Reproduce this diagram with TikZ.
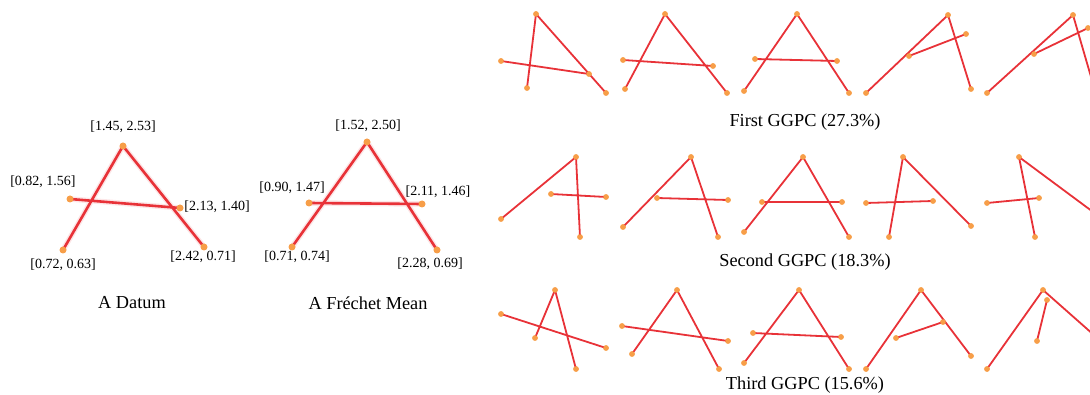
\documentclass[tikz,border=0pt]{standalone}
\usepackage{fontspec}
\setmainfont{Liberation Serif}
\begin{document}
\begin{tikzpicture}[x=1pt,y=-1pt,
  pt/.style={circle,fill=ptorange,inner sep=0pt,minimum size=5.5pt},
  bigpt/.style={circle,fill=ptorange,inner sep=0pt,minimum size=7pt},
  seg/.style={draw=segred,line width=1.8pt},
  bigseg/.style={draw=segred,line width=2.6pt},
  glow/.style={draw=segred!12,line width=5.5pt,line cap=round},
  lab/.style={font=\fontsize{14}{16}\selectfont,inner sep=0pt},
  captext/.style={font=\fontsize{18.3}{21}\selectfont,inner sep=0pt}]
\definecolor{segred}{RGB}{232,50,56}
\definecolor{ptorange}{RGB}{247,158,72}
\useasboundingbox (0,0) rectangle (1090,395);
\clip (0,0) rectangle (1090,395);

% ---------- A Datum ----------
\coordinate (dT) at (123,146);
\coordinate (dL) at (70,199);
\coordinate (dR) at (180,208);
\coordinate (dBL) at (63,250);
\coordinate (dBR) at (204,247);
\draw[glow] (dT) -- (dBL) (dT) -- (dBR) (dL) -- (dR);
\draw[bigseg] (dT) -- (dBL) (dT) -- (dBR) (dL) -- (dR);
\foreach \p in {dT,dL,dR,dBL,dBR} \node[bigpt] (n\p) at (\p) {};
\node[lab] (ldT) at (123,127) {[1.45, 2.53]};
\node[lab] (ldL) at (43,182) {[0.82, 1.56]};
\node[lab] (ldR) at (217,207) {[2.13, 1.40]};
\node[lab] (ldBL) at (63,265) {[0.72, 0.63]};
\node[lab] (ldBR) at (203,257) {[2.42, 0.71]};
\node[captext] (cd) at (132,303) {A Datum};

% ---------- Frechet mean ----------
\coordinate (mT) at (367,142);
\coordinate (mL) at (309,203);
\coordinate (mR) at (422,204);
\coordinate (mBL) at (292,247);
\coordinate (mBR) at (437,250);
\draw[glow] (mT) -- (mBL) (mT) -- (mBR) (mL) -- (mR);
\draw[bigseg] (mT) -- (mBL) (mT) -- (mBR) (mL) -- (mR);
\foreach \p in {mT,mL,mR,mBL,mBR} \node[bigpt] (n\p) at (\p) {};
\node[lab] (lmT) at (368,126) {[1.52, 2.50]};
\node[lab] (lmL) at (292,188) {[0.90, 1.47]};
\node[lab] (lmR) at (438,192) {[2.11, 1.46]};
\node[lab] (lmBL) at (297,257) {[0.71, 0.74]};
\node[lab] (lmBR) at (430,264) {[2.28, 0.69]};
\node[captext] (cm) at (368,303) {A Fr\'echet Mean};

% ---------- GGPC shapes: top, bottom-left, bottom-right, bar-left, bar-right ----------
\foreach \name/\tx/\ty/\blx/\bly/\brx/\bry/\lx/\ly/\rx/\ry in {
  a1/536/14/527/88/606/93/501/61/589/74,
  a2/665/14/625/89/727/93/623/60/713/66,
  a3/797/14/744/91/849/93/755/59/837/61,
  a4/948/15/866/93/971/89/909/56/966/34,
  a5/1073/15/987/93/1096/94/1034/54/1088/28,
  b1/576/157/501/219/580/237/551/194/606/197,
  b2/691/157/623/227/718/237/657/198/728/200,
  b3/803/157/744/232/849/237/762/202/842/202,
  b4/903/157/889/237/971/226/866/203/933/201,
  b5/1019/157/1035/237/1112/226/987/203/1039/198,
  c1/555/290/535/338/576/369/501/314/606/348,
  c2/677/290/632/354/719/369/622/326/728/341,
  c3/799/290/744/363/849/369/753/333/841/337,
  c4/921/290/866/369/971/356/896/338/943/322,
  c5/1043/290/987/369/1112/351/1047/300/1037/341}{
  \node[pt] (\name T) at (\tx,\ty) {};
  \node[pt] (\name BL) at (\blx,\bly) {};
  \node[pt] (\name BR) at (\brx,\bry) {};
  \node[pt] (\name L) at (\lx,\ly) {};
  \node[pt] (\name R) at (\rx,\ry) {};
  \draw[seg] (\name T.center) -- (\name BL.center)
             (\name T.center) -- (\name BR.center)
             (\name L.center) -- (\name R.center);
  \foreach \q in {T,BL,BR,L,R} \fill[ptorange] (\name\q) circle (2.75pt);
}

\node[captext] (c1cap) at (805,122) {First GGPC (27.3\%)};
\node[captext] (c2cap) at (805,262) {Second GGPC (18.3\%)};
\node[captext] (c3cap) at (805,385) {Third GGPC (15.6\%)};
\end{tikzpicture}
\end{document}
